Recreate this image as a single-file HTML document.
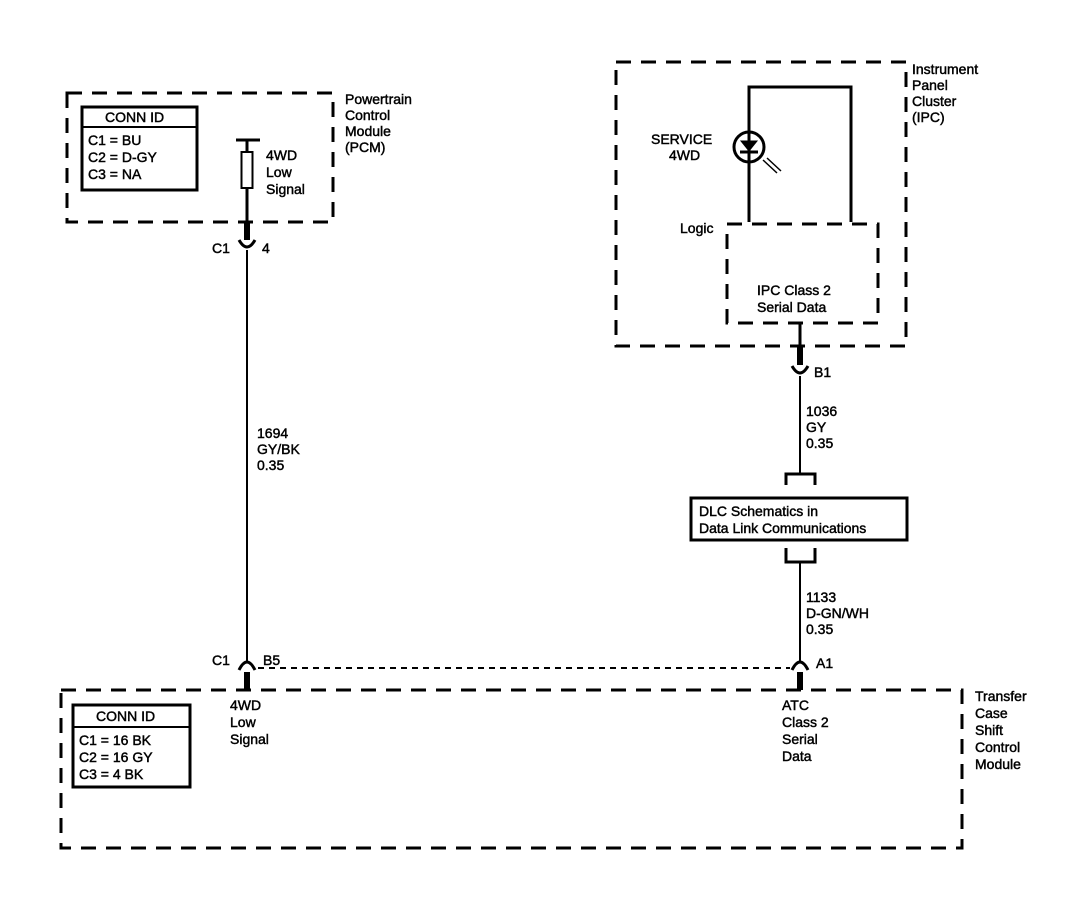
<!DOCTYPE html>
<html><head><style>
html,body{margin:0;padding:0;background:#fff;}
svg{display:block;}
text{font-family:"Liberation Sans",Arial,sans-serif;font-size:14px;fill:#000;stroke:#000;stroke-width:0.45;}
</style></head><body>
<svg width="1088" height="920" viewBox="0 0 1088 920" xmlns="http://www.w3.org/2000/svg">
<g fill="none" stroke="#000">
<rect x="67" y="93" width="266" height="129" stroke-width="3" stroke-dasharray="15,10"/>
<rect x="82" y="107" width="115" height="83" stroke-width="3"/>
<line x1="82" y1="127" x2="197" y2="127" stroke-width="2"/>
<line x1="236" y1="140" x2="260" y2="140" stroke-width="3"/>
<line x1="247" y1="140" x2="247" y2="152" stroke-width="3"/>
<rect x="241.5" y="152" width="11" height="36" stroke-width="2"/>
<line x1="247" y1="188" x2="247" y2="222" stroke-width="3"/>
<line x1="247" y1="222" x2="247" y2="240" stroke-width="6"/>
<path d="M239,240 Q247,254 255,240" stroke-width="3"/>
<line x1="247" y1="250" x2="247" y2="662" stroke-width="2"/>
<path d="M239,670 Q247,654 255,670" stroke-width="3"/>
<line x1="247" y1="672" x2="247" y2="690" stroke-width="6"/>
<line x1="258" y1="668" x2="790" y2="668" stroke-width="2" stroke-dasharray="6,5"/>
<rect x="616" y="62" width="290" height="284" stroke-width="3" stroke-dasharray="15,10"/>
<polyline points="749,222 749,87 851,87 851,222" stroke-width="3"/>
<circle cx="749" cy="147" r="15" stroke-width="3"/>
<path d="M741,141 L757,141 L749,151 Z" fill="#000" stroke-width="1"/>
<line x1="740" y1="152" x2="758" y2="152" stroke-width="3"/>
<line x1="763" y1="160" x2="777" y2="173" stroke-width="1.5"/>
<line x1="767" y1="158" x2="781" y2="171" stroke-width="1.5"/>
<rect x="727" y="224" width="151" height="99" stroke-width="3" stroke-dasharray="15,10"/>
<line x1="800" y1="323" x2="800" y2="346" stroke-width="3"/>
<line x1="800" y1="346" x2="800" y2="365" stroke-width="6"/>
<path d="M792,366 Q800,380 808,366" stroke-width="3"/>
<line x1="800" y1="376" x2="800" y2="474" stroke-width="2"/>
<polyline points="786,485 786,474 815,474 815,485" stroke-width="3"/>
<rect x="691" y="498" width="216" height="42" stroke-width="3"/>
<polyline points="786,548 786,562 815,562 815,548" stroke-width="3"/>
<line x1="800" y1="562" x2="800" y2="662" stroke-width="2"/>
<path d="M792,670 Q800,654 808,670" stroke-width="3"/>
<line x1="800" y1="672" x2="800" y2="690" stroke-width="6"/>
<rect x="61" y="690" width="901" height="158" stroke-width="3" stroke-dasharray="15,10"/>
<rect x="73" y="705" width="117" height="82" stroke-width="3"/>
<line x1="73" y1="727" x2="190" y2="727" stroke-width="2"/>
</g>
<text x="105" y="122">CONN ID</text>
<text x="88" y="145">C1 = BU</text>
<text x="88" y="162">C2 = D-GY</text>
<text x="88" y="179">C3 = NA</text>
<text x="266" y="160">4WD</text>
<text x="266" y="177">Low</text>
<text x="266" y="194">Signal</text>
<text x="345" y="104">Powertrain</text>
<text x="345" y="120">Control</text>
<text x="345" y="136">Module</text>
<text x="345" y="152">(PCM)</text>
<text x="212" y="253">C1</text>
<text x="262" y="253">4</text>
<text x="257" y="438">1694</text>
<text x="257" y="454">GY/BK</text>
<text x="257" y="470">0.35</text>
<text x="212" y="665">C1</text>
<text x="263" y="665">B5</text>
<text x="912" y="74">Instrument</text>
<text x="912" y="90">Panel</text>
<text x="912" y="106">Cluster</text>
<text x="912" y="122">(IPC)</text>
<text x="651" y="144">SERVICE</text>
<text x="669" y="160">4WD</text>
<text x="680" y="233">Logic</text>
<text x="757" y="295">IPC Class 2</text>
<text x="757" y="312">Serial Data</text>
<text x="814" y="377">B1</text>
<text x="806" y="416">1036</text>
<text x="806" y="432">GY</text>
<text x="806" y="448">0.35</text>
<text x="699" y="516">DLC Schematics in</text>
<text x="699" y="533">Data Link Communications</text>
<text x="806" y="602">1133</text>
<text x="806" y="618">D-GN/WH</text>
<text x="806" y="634">0.35</text>
<text x="816" y="668">A1</text>
<text x="96" y="721">CONN ID</text>
<text x="79" y="745">C1 = 16 BK</text>
<text x="79" y="762">C2 = 16 GY</text>
<text x="79" y="779">C3 = 4 BK</text>
<text x="230" y="710">4WD</text>
<text x="230" y="727">Low</text>
<text x="230" y="744">Signal</text>
<text x="782" y="710">ATC</text>
<text x="782" y="727">Class 2</text>
<text x="782" y="744">Serial</text>
<text x="782" y="761">Data</text>
<text x="975" y="701">Transfer</text>
<text x="975" y="718">Case</text>
<text x="975" y="735">Shift</text>
<text x="975" y="752">Control</text>
<text x="975" y="769">Module</text>
</svg>
</body></html>
